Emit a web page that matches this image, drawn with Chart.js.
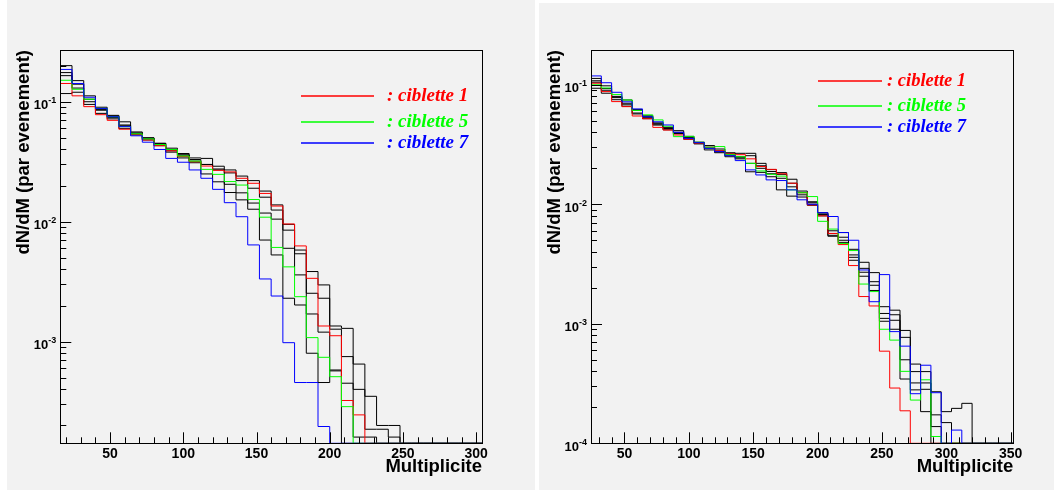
<!DOCTYPE html>
<html>
<head>
<meta charset="utf-8">
<script src="https://cdn.jsdelivr.net/npm/chart.js@4.4.0/dist/chart.umd.min.js"></script>
<style>
  body { margin: 0; background: #fff; }
  #cadre { position: relative; width: 1054px; height: 491px; overflow: hidden; }
  .pad { position: absolute; background: #f2f2f2; }
  #histoGauche { left: 7px; top: 0px; }
  #histoDroite { left: 539px; top: 3px; }
</style>
</head>
<body>
<div id="cadre">
  <canvas id="histoGauche" class="pad" width="528" height="490"></canvas>
  <canvas id="histoDroite" class="pad" width="515" height="487"></canvas>
</div>
<script>
// bord inferieur de chaque bin (largeur 8)
const largeurBin = 8;
const binsGauche = [16, 24, 32, 40, 48, 56, 64, 72, 80, 88, 96, 104, 112, 120, 128, 136, 144, 152,
    160, 168, 176, 184, 192, 200, 208, 216, 224, 232, 240, 248, 256, 264, 272, 280, 288, 296];
const binsDroite = [24, 32, 40, 48, 56, 64, 72, 80, 88, 96, 104, 112, 120, 128, 136, 144, 152, 160,
    168, 176, 184, 192, 200, 208, 216, 224, 232, 240, 248, 256, 264, 272, 280, 288, 296, 304, 312,
    320, 328, 336, 344];

// graduations
const ticksXGauche = [50, 100, 150, 200, 250, 300];
const ticksXDroite = [50, 100, 150, 200, 250, 300, 350];
const decadesGauche = [-3, -2, -1];
const decadesDroite = [-4, -3, -2, -1];
const legende = [': ciblette 1', ': ciblette 5', ': ciblette 7'];

// panneau de gauche
const rougeG = [0.142, 0.112, 0.091, 0.078, 0.070, 0.059, 0.053, 0.048, 0.043, 0.039, 0.035, 0.0316,
    0.0291, 0.0268, 0.026, 0.023, 0.0209, 0.0172, 0.0135, 0.00957, 0.00628, 0.00337, 0.00135, 0.00112,
    0.000323, 0.000245, 0, 0, 0, 0, 0, 0, 0, 0, 0, 0];
const vertG = [0.151, 0.127, 0.105, 0.088, 0.075, 0.062, 0.054, 0.049, 0.044, 0.040, 0.0353, 0.032,
    0.0273, 0.0248, 0.0216, 0.0202, 0.0153, 0.0109, 0.0061, 0.0042, 0.00237, 0.00108, 0.00074, 0.00051,
    0.000287, 0, 0, 0, 0, 0, 0, 0, 0, 0, 0, 0];
const bleuG = [0.186, 0.142, 0.109, 0.088, 0.075, 0.062, 0.052, 0.046, 0.040, 0.0337, 0.0313, 0.027,
    0.023, 0.0186, 0.0144, 0.0110, 0.0064, 0.00333, 0.0024, 0.00098, 0.000456, 0.000456, 0.000196,
    0, 0, 0, 0, 0, 0, 0, 0, 0, 0, 0, 0, 0];
const noir1G = [0.200, 0.150, 0.112, 0.090, 0.077, 0.068, 0.056, 0.050, 0.045, 0.041, 0.037, 0.034,
    0.0337, 0.029, 0.027, 0.024, 0.022, 0.018, 0.0138, 0.0095, 0.0054, 0.00384, 0.00297, 0.00135,
    0.00129, 0.00065, 0.00035, 0.0002, 0.0002, 0, 0, 0, 0, 0, 0, 0];
const noir2G = [0.165, 0.130, 0.100, 0.085, 0.074, 0.063, 0.055, 0.049, 0.044, 0.039, 0.036, 0.033,
    0.030, 0.027, 0.0255, 0.022, 0.019, 0.016, 0.0125, 0.0085, 0.0058, 0.00253, 0.0023, 0.00127,
    0.00075, 0.0004, 0.000186, 0.000186, 0.00016, 0, 0, 0, 0, 0, 0, 0];
const noir3G = [0.117, 0.120, 0.095, 0.080, 0.072, 0.060, 0.053, 0.048, 0.043, 0.038, 0.034, 0.031,
    0.025, 0.0215, 0.0175, 0.0152, 0.0127, 0.00703, 0.00528, 0.0023, 0.00202, 0.0008, 0.000456,
    0.00058, 0, 0, 0, 0, 0, 0, 0, 0, 0, 0, 0, 0];
const noir4G = [0.175, 0.140, 0.105, 0.086, 0.076, 0.064, 0.054, 0.050, 0.045, 0.040, 0.036, 0.032,
    0.030, 0.0275, 0.0205, 0.0174, 0.0143, 0.0118, 0.0105, 0.006, 0.0036, 0.0017, 0.0012, 0.00057,
    0.00045, 0.00016, 0.00016, 0, 0, 0, 0, 0, 0, 0, 0, 0];

// panneau de droite
const rougeD = [0.103, 0.0877, 0.0723, 0.0656, 0.0548, 0.052, 0.044, 0.0418, 0.038, 0.035, 0.0325,
    0.030, 0.028, 0.0264, 0.026, 0.024, 0.0207, 0.0196, 0.018, 0.015, 0.0125, 0.00986, 0.0080, 0.0057,
    0.0046, 0.00307, 0.00169, 0.00141, 0.00059, 0.00029, 0.000187, 0, 0, 0, 0, 0, 0, 0, 0, 0, 0];
const vertD = [0.100, 0.094, 0.083, 0.0746, 0.061, 0.056, 0.0508, 0.045, 0.0368, 0.037, 0.033, 0.030,
    0.0304, 0.026, 0.025, 0.022, 0.019, 0.0178, 0.0172, 0.0132, 0.0125, 0.0116, 0.0072, 0.0062, 0.0047,
    0.0041, 0.00215, 0.00186, 0.0009, 0.00073, 0.0004, 0.00023, 0.00034, 0.000114, 0, 0, 0, 0, 0, 0, 0];
const bleuD = [0.1186, 0.104, 0.0865, 0.072, 0.0628, 0.054, 0.049, 0.0461, 0.040, 0.0356, 0.0328,
    0.0294, 0.0276, 0.0255, 0.0232, 0.0194, 0.0176, 0.016, 0.0158, 0.0132, 0.0109, 0.0100, 0.0085,
    0.0079, 0.0058, 0.0050, 0.00282, 0.00153, 0.00258, 0.00086, 0.00065, 0.00026, 0.00045, 0.000265,
    0, 0.000129, 0, 0, 0, 0, 0];
const noir1D = [0.113, 0.098, 0.080, 0.0746, 0.062, 0.054, 0.048, 0.043, 0.0413, 0.036, 0.033, 0.031,
    0.029, 0.0264, 0.0267, 0.0267, 0.022, 0.0195, 0.0184, 0.0162, 0.0125, 0.0105, 0.0085, 0.0060,
    0.0058, 0.0042, 0.00327, 0.00268, 0.00139, 0.0013, 0.00088, 0.00046, 0.000398, 0.00027, 0.000184,
    0.000196, 0.000216, 0, 0, 0, 0];
const noir2D = [0.108, 0.093, 0.079, 0.068, 0.061, 0.055, 0.047, 0.044, 0.040, 0.037, 0.032, 0.030,
    0.028, 0.027, 0.025, 0.0255, 0.021, 0.0188, 0.0178, 0.015, 0.0129, 0.0100, 0.0082, 0.0057, 0.0053,
    0.00377, 0.00291, 0.00225, 0.00122, 0.00119, 0.00077, 0.000398, 0.00032, 0.000173, 0.000149,
    0, 0, 0, 0, 0, 0];
const noir3D = [0.0935, 0.090, 0.078, 0.070, 0.058, 0.053, 0.046, 0.042, 0.039, 0.035, 0.0325, 0.0295,
    0.027, 0.025, 0.0245, 0.0187, 0.0185, 0.018, 0.0132, 0.0117, 0.0115, 0.0098, 0.0080, 0.0055, 0.0050,
    0.0036, 0.0027, 0.0021, 0.00111, 0.00107, 0.000345, 0.00032, 0.000283, 0.000138, 0, 0, 0, 0, 0, 0, 0];
const noir4D = [0.105, 0.085, 0.075, 0.066, 0.057, 0.052, 0.047, 0.043, 0.039, 0.036, 0.033, 0.0285,
    0.0275, 0.0258, 0.024, 0.022, 0.020, 0.017, 0.0165, 0.014, 0.012, 0.0103, 0.0083, 0.0054, 0.0048,
    0.0034, 0.0025, 0.0019, 0.00105, 0.0009, 0.0005, 0.00028, 0.000184, 0, 0, 0, 0, 0, 0, 0, 0];

const couleurs = ['#ff0000', '#00ff00', '#0000ff'];

// contour en escalier : un bin vide est trace sur le bas du cadre
function pointsHisto(bins, valeurs, ymin) {
    let pts = [];
    for (let i = 0; i < bins.length; i++) {
        pts.push({ x: bins[i], y: Math.max(valeurs[i], ymin) });
    }
    const n = bins.length - 1;
    pts.push({ x: bins[n] + largeurBin, y: Math.max(valeurs[n], ymin) });
    return pts;
}

function serie(bins, valeurs, ymin, couleur) {
    return {
        data: pointsHisto(bins, valeurs, ymin),
        borderColor: couleur,
        borderWidth: 1,
        pointRadius: 0,
        stepped: 'before',
        fill: false,
        clip: 3
    };
}

// cadre, graduations internes, etiquettes 10^n et legende facon ROOT
const cadreRoot = {
    id: 'cadreRoot',
    afterDraw(chart, args, opts) {
        const ctx = chart.ctx;
        const a = chart.chartArea;
        const x = chart.scales.x;
        const y = chart.scales.y;
        ctx.save();
        ctx.strokeStyle = '#000';
        ctx.lineWidth = 1;
        ctx.beginPath();
        for (let v = Math.ceil(x.min / 10) * 10; v <= x.max; v += 10) {
            const px = Math.round(x.getPixelForValue(v)) + 0.5;
            const l = v % 50 === 0 ? 11 : 6;
            ctx.moveTo(px, a.bottom);
            ctx.lineTo(px, a.bottom - l);
        }
        for (let d = Math.floor(Math.log10(y.min)); d <= Math.ceil(Math.log10(y.max)); d++) {
            for (let m = 1; m < 10; m++) {
                const v = m * Math.pow(10, d);
                if (v < y.min * 0.999 || v > y.max) continue;
                const py = Math.round(y.getPixelForValue(v)) + 0.5;
                ctx.moveTo(a.left, py);
                ctx.lineTo(a.left + (m === 1 ? 11 : 6), py);
            }
        }
        ctx.stroke();
        ctx.strokeRect(Math.round(a.left) + 0.5, Math.round(a.top) + 0.5,
            Math.round(a.right - a.left), Math.round(a.bottom - a.top));

        // etiquettes de l'axe y
        ctx.fillStyle = '#000';
        ctx.textAlign = 'right';
        opts.decades.forEach(d => {
            const py = y.getPixelForValue(Math.pow(10, d));
            const expo = '-' + Math.abs(d);
            ctx.font = 'bold 9px "Liberation Sans"';
            const w = ctx.measureText(expo).width;
            ctx.textBaseline = 'middle';
            ctx.fillText(expo, a.left - 4, py - 1);
            ctx.font = 'bold 13px "Liberation Sans"';
            ctx.textBaseline = 'alphabetic';
            ctx.fillText('10', a.left - 4 - w, py + 7.5);
        });

        // legende
        const lg = opts.legende;
        ctx.textAlign = 'left';
        ctx.textBaseline = 'middle';
        ctx.font = 'italic bold ' + lg.taille + 'px "Liberation Serif"';
        ctx.lineWidth = 1.4;
        lg.ys.forEach((yy, i) => {
            ctx.strokeStyle = couleurs[i];
            ctx.beginPath();
            ctx.moveTo(lg.x1, yy);
            ctx.lineTo(lg.x2, yy);
            ctx.stroke();
            ctx.fillStyle = couleurs[i];
            ctx.fillText(legende[i], lg.xt, yy);
        });
        ctx.restore();
    }
};

function creerHisto(id, c) {
    const ctx = document.getElementById(id).getContext('2d');
    const fonte = (t) => ({ family: 'Liberation Sans', size: t, weight: 'bold' });
    const jeux = [
        serie(c.bins, c.bleu, c.ymin, couleurs[2]),
        serie(c.bins, c.vert, c.ymin, couleurs[1]),
        serie(c.bins, c.rouge, c.ymin, couleurs[0])
    ];
    c.noirs.forEach(n => jeux.push(serie(c.bins, n, c.ymin, '#000000')));
    return new Chart(ctx, {
        type: 'line',
        data: { datasets: jeux },
        options: {
            responsive: false,
            animation: false,
            devicePixelRatio: 1,
            layout: { padding: { left: 0, top: c.hautPad, right: c.droitePad, bottom: 0 } },
            plugins: {
                legend: { display: false },
                tooltip: { enabled: false },
                cadreRoot: { decades: c.decades, legende: c.legende }
            },
            scales: {
                x: {
                    type: 'linear',
                    min: c.xmin,
                    max: c.xmax,
                    grid: { display: false, drawTicks: false },
                    border: { display: false },
                    afterBuildTicks: s => { s.ticks = c.ticksX.map(v => ({ value: v })); },
                    afterFit: s => { s.height = c.hautX; },
                    ticks: { color: '#000', font: fonte(14), padding: 2, maxRotation: 0, autoSkip: false },
                    title: {
                        display: true, text: 'Multiplicite', align: 'end', color: '#000',
                        font: fonte(18.5), padding: { top: 0, bottom: 12 }
                    }
                },
                y: {
                    type: 'logarithmic',
                    min: c.ymin,
                    max: c.ymax,
                    grid: { display: false, drawTicks: false },
                    border: { display: false },
                    ticks: { display: false },
                    afterFit: s => { s.width = c.largY; },
                    title: {
                        display: true, text: 'dN/dM (par evenement)', align: 'end', color: '#000',
                        font: fonte(18.5), padding: { top: c.titreY, bottom: 0 }
                    }
                }
            }
        },
        plugins: [cadreRoot]
    });
}

creerHisto('histoGauche', {
    bins: binsGauche, rouge: rougeG, vert: vertG, bleu: bleuG,
    noirs: [noir1G, noir2G, noir3G, noir4G],
    xmin: 16, xmax: 304, ymin: 1.42e-4, ymax: 0.27,
    ticksX: ticksXGauche, decades: decadesGauche,
    hautPad: 50, droitePad: 53, largY: 53.3, hautX: 46.7, titreY: 6,
    legende: { x1: 294, x2: 367, xt: 380, ys: [96, 122, 143], taille: 19 }
});

creerHisto('histoDroite', {
    bins: binsDroite, rouge: rougeD, vert: vertD, bleu: bleuD,
    noirs: [noir1D, noir2D, noir3D, noir4D],
    xmin: 24, xmax: 352, ymin: 1e-4, ymax: 0.1954,
    ticksX: ticksXDroite, decades: decadesDroite,
    hautPad: 47, droitePad: 40.7, largY: 52, hautX: 46.7, titreY: 4.5,
    legende: { x1: 279, x2: 343, xt: 348, ys: [78, 103, 124], taille: 18.5 }
});
</script>
</body>
</html>
